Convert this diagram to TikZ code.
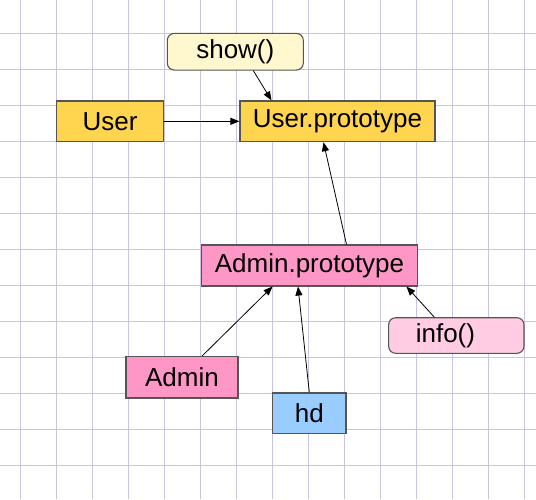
\documentclass[tikz,border=0pt]{standalone}
\usepackage{fontspec}
\setmainfont{Liberation Sans}
\usetikzlibrary{arrows.meta}
\definecolor{gridcol}{HTML}{C9C5E0}
\definecolor{userfill}{HTML}{FFD44F}
\definecolor{adminfill}{HTML}{FE97C6}
\definecolor{infofill}{HTML}{FFCCE3}
\definecolor{hdfill}{HTML}{99CCFF}
\definecolor{showfill}{HTML}{FFF8CF}
\definecolor{edgecol}{HTML}{555555}
\begin{document}
\begin{tikzpicture}[x=1pt,y=-1pt,
        box/.style={draw=edgecol,line width=1.1pt,inner sep=0pt,
          font=\fontsize{26}{30}\selectfont},
        roundbox/.style={box,rounded corners=7pt},
        link/.style={line width=0.8pt,-{Triangle[length=9pt,width=7pt]}}]
        \useasboundingbox (0,0) rectangle (536,499);
        
        % Background grid
        \foreach \i in {0,...,14}
          \draw [gridcol,line width=0.8pt] (20.7+36*\i,0) -- ++(0,499);%
        \foreach \j in {0,...,12}
          \draw [gridcol,line width=0.8pt] (0,33.3+36*\j) -- ++(536,0);%
        
        % Boxes of the User side
        \node [roundbox,fill=showfill,minimum width=136pt,minimum height=36.7pt] (show) at (235.3,51.7) {show()};%
        \node [box,fill=userfill,minimum width=106.6pt,minimum height=40.7pt] (user) at (110,121.3) {User};%
        \node [box,fill=userfill,minimum width=195pt,minimum height=40.7pt] (uproto) at (337.5,121.3) {User.prototype};%
        
        % Boxes of the Admin side
        \node [box,fill=adminfill,minimum width=215.6pt,minimum height=41pt] (aproto) at (309.5,265.5) {Admin.prototype};%
        \node [roundbox,fill=infofill,minimum width=135.3pt,minimum height=35.6pt,text width=115pt,align=left] (info) at (456.3,335.5) {\hspace{17pt}info()};%
        \node [box,fill=adminfill,minimum width=112pt,minimum height=41.3pt] (admin) at (182,377.3) {Admin};%
        \node [box,fill=hdfill,minimum width=73.3pt,minimum height=40.7pt] (hd) at (309.3,413.3) {hd};%
        
        % Links
        \draw [link] (user.east) -- (uproto.west);%
        \draw [link] ([xshift=18pt]show.south) -- ([xshift=-66pt]uproto.north);%
        \draw [link] ([xshift=37pt]aproto.north) -- ([xshift=-14pt]uproto.south);%
        \draw [link] ([xshift=20pt]admin.north) -- ([xshift=-37pt]aproto.south);%
        \draw [link] (hd.north) -- ([xshift=-11.5pt]aproto.south);%
        \draw [link] ([xshift=-22pt]info.north) -- ([xshift=97pt]aproto.south);%
\end{tikzpicture}
\end{document}
